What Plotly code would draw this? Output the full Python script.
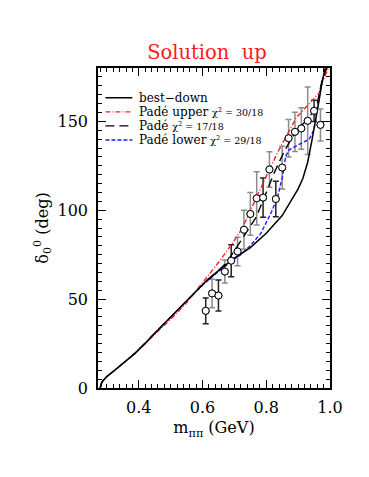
import plotly.graph_objects as go

# ---- data ----
start_x = [0.279, 0.2805, 0.283, 0.287, 0.293, 0.3, 0.31, 0.325, 0.35, 0.388]
start_y = [0.0, 1.5, 2.8, 4.0, 5.3, 6.5, 7.9, 10.0, 13.8, 19.5]

best_x = start_x + [0.42, 0.45, 0.48, 0.513, 0.55, 0.575, 0.6, 0.616, 0.65, 0.7, 0.75, 0.8, 0.85, 0.87, 0.9, 0.915, 0.93, 0.944, 0.956, 0.965, 0.975, 0.985]
best_y = start_y + [25.0, 30.8, 36.2, 42.1, 49.0, 53.4, 58.0, 61.0, 66.0, 73.0, 79.0, 87.0, 97.0, 103.0, 112.0, 118.0, 127.0, 140.0, 151.0, 161.0, 172.0, 180.0]

upper_x = start_x + [0.45, 0.513, 0.55, 0.591, 0.63, 0.664, 0.7, 0.725, 0.75, 0.78, 0.81, 0.84, 0.872, 0.894, 0.93, 0.966, 0.976, 0.995]
upper_y = start_y + [30.0, 41.0, 48.0, 57.0, 66.0, 74.0, 83.0, 90.0, 100.0, 111.0, 123.0, 134.0, 145.0, 152.0, 159.0, 166.0, 172.0, 180.0]

pade_x = start_x + [0.45, 0.513, 0.575, 0.6, 0.65, 0.674, 0.716, 0.75, 0.768, 0.8, 0.825, 0.856, 0.893, 0.935, 0.96, 0.975, 0.99]
pade_y = start_y + [30.8, 42.1, 53.4, 58.0, 66.0, 70.3, 81.6, 91.0, 96.0, 110.0, 121.0, 133.0, 144.7, 152.0, 160.0, 173.0, 180.0]

lower_x = start_x + [0.45, 0.513, 0.575, 0.6, 0.65, 0.695, 0.72, 0.75, 0.783, 0.815, 0.835, 0.851, 0.861, 0.872, 0.903, 0.935, 0.95, 0.96, 0.976, 0.99]
lower_y = start_y + [30.8, 42.1, 53.4, 58.0, 65.5, 72.0, 75.0, 80.0, 87.0, 98.5, 107.0, 119.0, 130.4, 134.0, 137.0, 140.0, 145.5, 157.8, 173.0, 180.0]

data_x = [0.61, 0.63, 0.65, 0.67, 0.69, 0.71, 0.73, 0.75, 0.77, 0.79, 0.81, 0.83, 0.85, 0.87, 0.89, 0.91, 0.93, 0.95, 0.97]
data_y = [43.4, 53.2, 52.0, 65.5, 71.6, 76.8, 89.0, 97.9, 106.7, 107.1, 122.9, 106.3, 124.0, 140.5, 144.1, 146.0, 150.3, 155.9, 148.0]
data_err = [7.2, 8.0, 8.7, 6.5, 9.0, 8.0, 11.0, 12.0, 15.0, 11.0, 10.0, 10.0, 12.0, 10.5, 11.0, 11.7, 19.0, 6.0, 9.0]
data_set = ["b", "g", "b", "g", "b", "g", "g", "g", "g", "b", "g", "b", "g", "g", "g", "g", "g", "b", "g"]

x_tickvals = [0.4, 0.6, 0.8, 1.0]
x_ticktext = ["0.4", "0.6", "0.8", "1.0"]
y_tickvals = [0, 50, 100, 150]
y_ticktext = ["0", "50", "100", "150"]

legend_labels = [
    "best\u2212down",
    "Pad\u00e9 upper <span style='font-size:9.5px'>\u03c7<sup>2</sup> = 30/18</span>",
    "Pad\u00e9 <span style='font-size:9.5px'>\u03c7<sup>2</sup> = 17/18</span>",
    "Pad\u00e9 lower <span style='font-size:9.5px'>\u03c7<sup>2</sup> = 29/18</span>",
]

FONT = "DejaVu Serif"
RED = "#ff2020"
BLUE = "#1a1aff"
styles = [
    dict(color="black", width=1.5, dash="solid"),
    dict(color=RED, width=1.4, dash="5px,2px,1px,2px"),
    dict(color="black", width=1.4, dash="9px,5px"),
    dict(color=BLUE, width=1.4, dash="4px,2px"),
]

fig = go.Figure()

# error bars, in two groups (grey / black bars)
for key, col in (("g", "#8c8c8c"), ("b", "#222222")):
    xs = [x for x, s in zip(data_x, data_set) if s == key]
    ys = [y for y, s in zip(data_y, data_set) if s == key]
    es = [e for e, s in zip(data_err, data_set) if s == key]
    fig.add_trace(go.Scatter(
        x=xs, y=ys, mode="markers", showlegend=False,
        error_y=dict(type="data", array=es, color=col, thickness=1.5, width=3),
        marker=dict(symbol="circle", size=7, color="white", line=dict(color="black", width=1)),
    ))

# curves: blue, black dashed, red, then black solid on top
for xs, ys, st, nm in ((lower_x, lower_y, styles[3], legend_labels[3]),
                       (pade_x, pade_y, styles[2], legend_labels[2]),
                       (upper_x, upper_y, styles[1], legend_labels[1]),
                       (best_x, best_y, styles[0], legend_labels[0])):
    fig.add_trace(go.Scatter(x=xs, y=ys, mode="lines", name=nm, showlegend=False, line=st))

# points above lines
fig.add_trace(go.Scatter(
    x=data_x, y=data_y, mode="markers", showlegend=False,
    marker=dict(symbol="circle", size=7, color="white", line=dict(color="black", width=1)),
))

# manual legend (inside the frame, top-left)
row_y = [0.907, 0.863, 0.819, 0.775]
for lab, st, yy in zip(legend_labels, styles, row_y):
    fig.add_shape(type="line", xref="paper", yref="paper", x0=0.032, x1=0.148, y0=yy, y1=yy,
                  line=st)
    fig.add_annotation(xref="paper", yref="paper", x=0.17, y=yy, xanchor="left", yanchor="middle",
                       text=lab, showarrow=False, font=dict(family=FONT, size=12, color="black"))

axis_common = dict(
    showgrid=False, zeroline=False, showline=True, linecolor="black", linewidth=1.5,
    mirror="allticks", ticks="inside", ticklen=8, tickwidth=1, tickcolor="black",
    tickfont=dict(family=FONT, size=16, color="black"), automargin=False,
)

fig.update_xaxes(range=[0.272, 1.0], tickmode="array", tickvals=x_tickvals, ticktext=x_ticktext,
                 minor=dict(tickmode="linear", dtick=0.02, tick0=0.0, ticks="inside", ticklen=4,
                            tickwidth=1, tickcolor="black"),
                 title=dict(text="m<sub>\u03c0\u03c0</sub> (GeV)", font=dict(family=FONT, size=16, color="black"), standoff=6),
                 ticklabelstandoff=4,
                 **axis_common)
fig.update_yaxes(range=[0, 180], tickmode="array", tickvals=y_tickvals, ticktext=y_ticktext,
                 minor=dict(tickmode="linear", dtick=5, tick0=0, ticks="inside", ticklen=4,
                            tickwidth=1, tickcolor="black"),
                 title=dict(text="\u03b4<sub>0</sub><sup>0</sup> (deg)", font=dict(family=FONT, size=16, color="black"), standoff=5),
                 ticklabelstandoff=5,
                 **axis_common)

fig.update_layout(
    width=369, height=477,
    margin=dict(l=98, r=39, t=68, b=89),
    paper_bgcolor="white", plot_bgcolor="white",
    title=dict(text="Solution&nbsp;&nbsp;up", x=207 / 369, xanchor="center", xref="container",
               y=1 - 52 / 477, yanchor="middle", yref="container",
               font=dict(family=FONT, size=19.5, color="#ff1a1a")),
    showlegend=False,
)

fig.write_html("out.html", config={"displayModeBar": False},
               post_script="document.body.style.margin='0';document.body.style.padding='0';")
